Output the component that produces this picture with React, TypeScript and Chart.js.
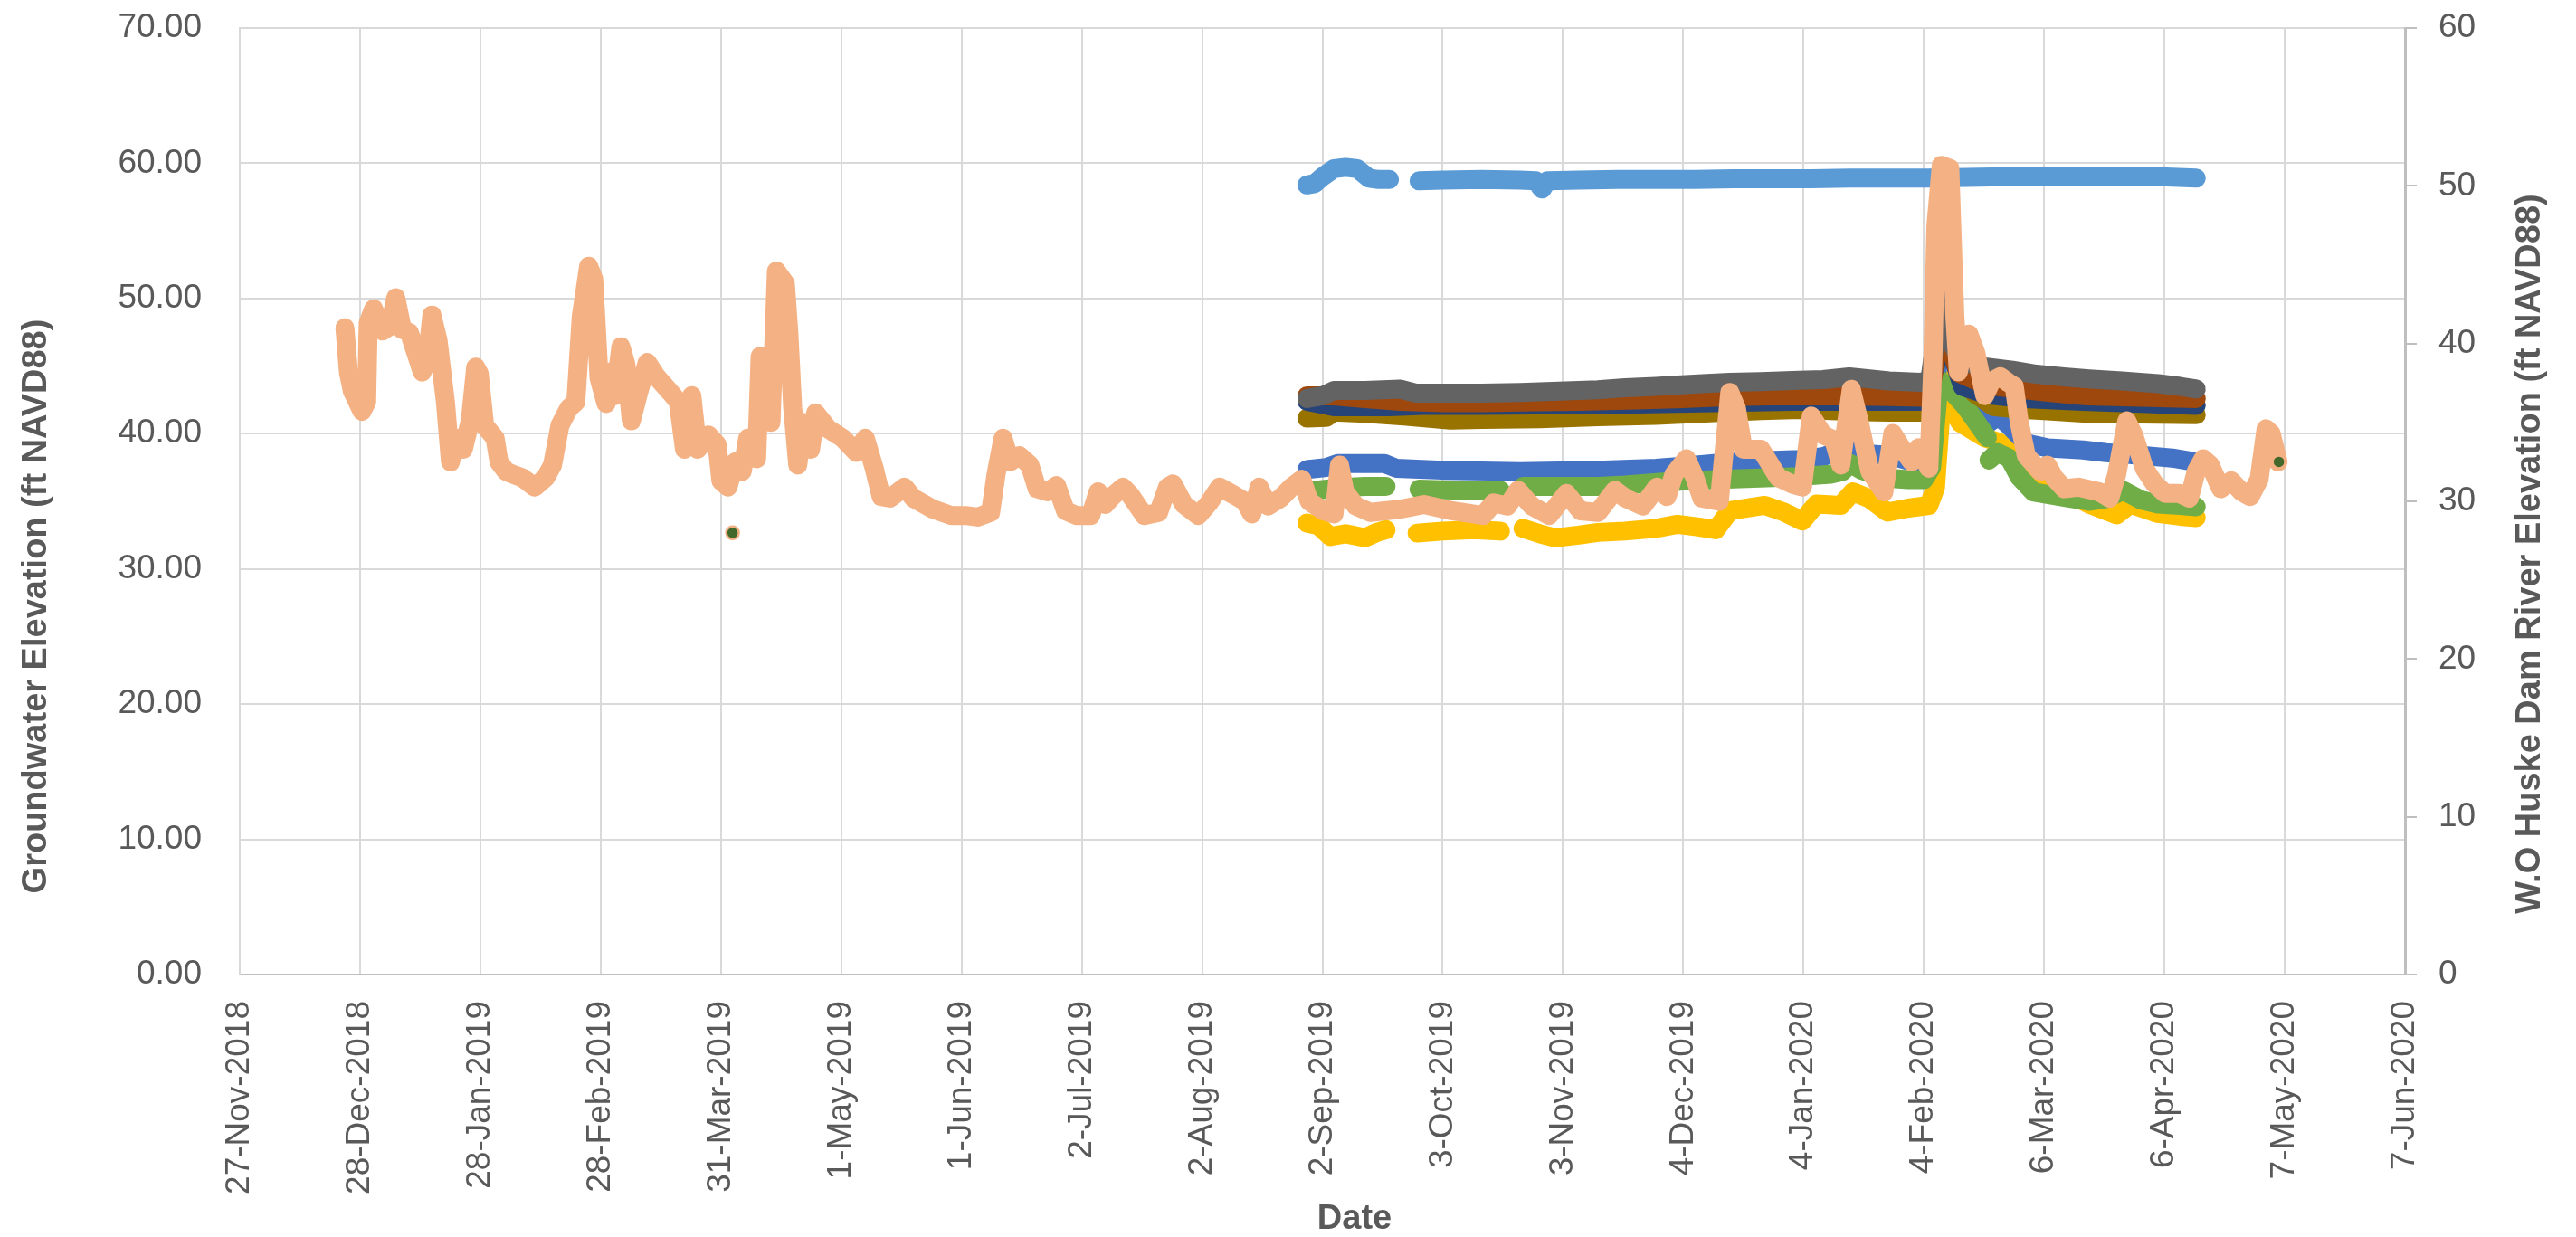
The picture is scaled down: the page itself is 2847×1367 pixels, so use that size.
import React, { useEffect, useRef } from 'react';
import { Chart, registerables } from 'chart.js';

Chart.register(...registerables);

// ---------- axis tick labels ----------
const xTickLabels = [
  '27-Nov-2018', '28-Dec-2018', '28-Jan-2019', '28-Feb-2019', '31-Mar-2019', '1-May-2019',
  '1-Jun-2019', '2-Jul-2019', '2-Aug-2019', '2-Sep-2019', '3-Oct-2019', '3-Nov-2019',
  '4-Dec-2019', '4-Jan-2020', '4-Feb-2020', '6-Mar-2020', '6-Apr-2020', '7-May-2020', '7-Jun-2020',
];
const X_STEP_DAYS = 31; // days between date ticks (day 0 = 27-Nov-2018)
const X_MAX_DAYS = 558;

const leftTitle = 'Groundwater Elevation (ft NAVD88)';
const rightTitle = 'W.O Huske Dam River Elevation (ft NAVD88)';
const xTitle = 'Date';

// ---------- river elevation (right axis), days since 27-Nov-2018 ----------
const riverDays = [
  27.1, 28, 29, 31.5, 32.7, 33.1, 34.5, 36.8, 38.7, 40.2,
  41.9, 43.7, 47, 48.3, 49.5, 51.1, 53, 54.3, 55.7, 57.6,
  59.4, 60.8, 61.7, 63.1, 65.8, 66.8, 68.6, 70.5, 72.8, 76,
  78.8, 80.6, 82.5, 84.8, 86.6, 88, 89.9, 91.2, 92.6, 94.4,
  95.4, 96.7, 98.2, 99.5, 100.9, 102.8, 105, 107.4, 111, 113,
  114.6, 116.5, 118, 120.8, 123, 124, 125.8, 127.7, 129.5, 130.9,
  133.2, 134.1, 136, 136.9, 138.3, 140.6, 141.5, 142.5, 143.8, 145.2,
  147.1, 148.4, 151.6, 155.4, 158.9, 161.2, 163.5, 165.3, 167.6, 171.3,
  173.6, 178.7, 183.3, 187, 190.2, 193.5, 194.9, 196.7, 198.5, 200.9,
  203.6, 205.5, 208.2, 210.5, 212.8, 215.6, 219.3, 221.2, 223, 224.8,
  227.6, 229.5, 233.1, 236.8, 239.1, 240.5, 243.3, 247, 249.8, 252.5,
  256.2, 259, 260.8, 262.7, 265, 268.2, 271, 273.7, 275.6, 279.3,
  282, 283.4, 284.8, 287.6, 291.3, 299, 305.2, 312.4, 320.4, 323.1,
  326.7, 329.4, 333, 337.4, 341.9, 345.5, 350, 354.4, 357.1, 361.6,
  365.2, 367.8, 369.6, 372.8, 375, 376.8, 381.3, 384, 385.7, 387.5,
  392, 396.5, 400, 402.7, 405, 408.1, 410.8, 412.6, 415.3, 417.4,
  420.1, 423.7, 426, 428.2, 430.9, 432.7, 435.3, 436.3, 437.1, 438.5,
  440.7, 442, 442.9, 444.3, 445.6, 447.4, 449.7, 451.4, 453.7, 455.9,
  457.3, 458.6, 460.4, 464, 465.8, 467.6, 470.2, 473.8, 479.2, 481.9,
  483.7, 486.3, 488.1, 490.8, 493.5, 496.2, 499.8, 502.4, 504.2, 506,
  507.8, 510.5, 513.2, 515.9, 518.1, 520.4, 522.2, 523.5, 525.3,
];
const riverLevels = [
  41.0, 38.2, 37.0, 35.7, 36.3, 41.3, 42.2, 40.8, 41.1, 42.9,
  40.9, 40.7, 38.2, 39.0, 41.8, 40.2, 36.3, 32.5, 34.0, 33.3,
  35.1, 38.5, 38.1, 34.8, 34.0, 32.5, 31.9, 31.7, 31.5, 30.9,
  31.5, 32.3, 34.8, 35.9, 36.3, 41.7, 44.9, 44.1, 37.8, 36.2,
  38.2, 36.7, 39.8, 38.7, 35.1, 36.9, 38.8, 37.9, 36.9, 36.3,
  33.3, 36.7, 33.3, 34.2, 33.6, 31.3, 30.9, 32.5, 31.9, 34.0,
  32.7, 39.2, 38.7, 35.0, 44.6, 43.8, 40.7, 35.9, 32.3, 35.0,
  33.3, 35.6, 34.6, 34.0, 33.1, 34.0, 32.1, 30.3, 30.2, 30.9,
  30.2, 29.5, 29.1, 29.1, 29.0, 29.3, 31.7, 34.0, 32.5, 32.9,
  32.3, 30.8, 30.6, 31.0, 29.4, 29.1, 29.1, 30.6, 29.8, 30.3,
  30.9, 30.4, 29.1, 29.3, 30.9, 31.1, 29.8, 29.1, 29.9, 30.9,
  30.4, 30.0, 29.2, 30.9, 29.7, 30.2, 30.9, 31.4, 30.0, 29.4,
  29.2, 32.3, 30.6, 29.7, 29.3, 29.5, 29.8, 29.4, 29.1, 29.9,
  29.7, 30.7, 29.7, 29.1, 30.5, 29.4, 29.3, 30.7, 30.2, 29.7,
  30.9, 30.3, 31.7, 32.7, 31.5, 30.2, 30.0, 36.9, 35.9, 33.3,
  33.3, 31.5, 31.1, 30.9, 35.4, 34.2, 33.9, 32.3, 37.1, 35.0,
  31.9, 30.6, 34.3, 33.4, 32.5, 33.4, 32.1, 38.6, 47.4, 51.3,
  51.1, 41.7, 38.2, 39.8, 40.6, 39.4, 36.7, 37.6, 37.9, 37.5,
  37.3, 35.0, 32.9, 31.9, 32.3, 31.5, 30.8, 30.9, 30.6, 30.2,
  31.7, 35.1, 34.2, 32.1, 31.1, 30.5, 30.5, 30.2, 31.9, 32.7,
  32.3, 30.8, 31.3, 30.6, 30.3, 31.4, 34.6, 34.3, 32.5,
];

// spot river measurements (dark green dots)
const riverSpotDays = [127, 525.5];
const riverSpotLevels = [28.0, 32.5];

// ---------- groundwater wells (left axis) ----------
const lightBlueDays = [275, 277, 279, 282, 285, 288, 291, 293.5, 296.3, 300, 303.9, 310, 320, 330, 334, 335.6, 337, 345, 355, 365, 375, 385, 395, 405, 415, 425, 435, 445, 455, 465, 475, 485, 495, 504.2];
const lightBlueVals = [58.4, 58.5, 59.0, 59.6, 59.7, 59.6, 58.9, 58.8, 58.8, null, 58.7, 58.75, 58.8, 58.75, 58.7, 58.1, 58.7, 58.75, 58.8, 58.8, 58.8, 58.85, 58.85, 58.85, 58.9, 58.9, 58.9, 58.95, 59.0, 59.0, 59.05, 59.05, 59.0, 58.9];

const grayDays = [275, 279, 282, 290, 299, 303, 310, 320, 330, 340, 350, 357, 365, 370.5, 377, 384, 392, 401.8, 408, 414.8, 425, 433, 435.5, 437.5, 439.5, 441.5, 444, 449.7, 456.8, 463, 470, 476.5, 485, 494.4, 500, 504.2];
const grayVals = [42.6, 42.8, 43.2, 43.2, 43.3, 43.0, 43.0, 43.0, 43.05, 43.15, 43.25, 43.4, 43.5, 43.6, 43.7, 43.8, 43.85, 43.95, 44.0, 44.2, 43.9, 43.8, 43.9, 48.0, 49.0, 46.5, 45.3, 44.95, 44.7, 44.4, 44.2, 44.05, 43.9, 43.7, 43.5, 43.3];

const brownDays = [275, 282, 290, 299, 310, 320, 330, 345, 360, 372, 384, 395, 405, 415, 425, 434, 436, 438, 440, 443, 450, 458.6, 465, 476, 490, 504.2];
const brownVals = [42.8, 42.8, 42.6, 42.4, 42.3, 42.3, 42.35, 42.4, 42.5, 42.6, 42.75, 42.8, 42.8, 42.8, 42.75, 42.7, 43.5, 48.0, 47.0, 44.5, 43.6, 43.3, 43.1, 42.8, 42.7, 42.6];

const darkBlueDays = [275, 282, 290, 296, 305, 320, 340, 360, 380, 400, 420, 434, 437, 439.4, 441, 444, 450, 460, 475, 490, 504.2];
const darkBlueVals = [42.4, 42.0, 42.0, 42.0, 42.1, 42.1, 42.15, 42.2, 42.3, 42.4, 42.4, 42.4, 45.0, 51.3, 46.0, 43.5, 42.9, 42.6, 42.4, 42.25, 42.1];

const oliveDays = [275, 280, 282, 290, 300, 312, 320, 335, 350, 365, 380, 392, 402, 415, 425, 434, 437, 439.4, 441, 443.4, 447, 452, 458.6, 465, 476, 490, 504.2];
const oliveVals = [41.15, 41.2, 41.6, 41.5, 41.3, 41.0, 41.05, 41.1, 41.25, 41.35, 41.55, 41.7, 41.8, 41.65, 41.6, 41.6, 45.0, 50.2, 47.0, 44.2, 43.0, 42.0, 41.8, 41.7, 41.5, 41.45, 41.4];

const blueDays = [275, 280, 283, 290, 295, 298, 310, 330, 350, 360, 365, 372, 380, 392, 402, 408, 413, 417, 420, 425, 430, 434, 436, 438, 440, 442, 444.3, 447, 449.7, 453.2, 456, 460.4, 466, 475, 481, 490, 498, 504.2];
const blueVals = [37.35, 37.5, 37.8, 37.8, 37.8, 37.45, 37.3, 37.2, 37.3, 37.4, 37.45, 37.6, 37.8, 38.0, 38.1, 38.3, 38.8, 38.6, 38.5, 38.4, 38.0, 37.9, 38.5, 47.0, 50.0, 46.0, 42.6, 41.5, 40.6, 41.3, 40.6, 39.3, 38.95, 38.8, 38.6, 38.4, 38.2, 37.9];

const greenDays = [277, 283, 290, 295.4, 299, 303.9, 310, 318, 324.9, 328, 330.7, 340, 350, 357, 366, 372, 380, 390, 400, 405, 410, 413, 415, 418, 422, 425, 430, 434, 436, 438, 440.7, 445, 450.4, 450.6, 450.8, 453, 456, 458.6, 462.2, 470, 476.5, 481, 485.4, 490, 494.4, 500, 504.2];
const greenVals = [35.8, 36.0, 36.1, 36.1, null, 35.9, 35.85, 35.8, 35.8, null, 36.1, 36.1, 36.1, 36.2, 36.4, 36.5, 36.6, 36.7, 36.8, 36.9, 37.0, 37.2, 37.8, 37.3, 36.9, 36.7, 36.6, 36.6, 37.5, 44.0, 43.3, 41.9, 39.7, null, 38.05, 38.6, 38.2, 36.8, 35.7, 35.3, 35.0, 35.2, 35.8, 35.1, 34.8, 34.7, 34.6];

const yellowDays = [275, 278, 281, 285, 290, 293, 295.4, 299, 303.4, 310, 318, 324.9, 328, 330.7, 335, 339, 345, 350, 357, 365, 370.5, 376, 380.4, 384, 393, 398, 402.7, 406.3, 412.6, 415.7, 420, 424.6, 430, 435.3, 437, 439, 441, 443.4, 449.7, 453, 456, 460, 467.6, 476.5, 483.7, 487.2, 494.4, 500, 504.2];
const yellowVals = [33.4, 33.2, 32.4, 32.6, 32.3, 32.7, 32.9, null, 32.65, 32.8, 32.9, 32.8, null, 33.0, 32.6, 32.3, 32.5, 32.7, 32.8, 33.0, 33.3, 33.1, 32.9, 34.3, 34.7, 34.2, 33.55, 34.8, 34.7, 35.7, 35.2, 34.2, 34.5, 34.7, 36.0, 44.0, 42.0, 40.8, 39.7, 39.4, 39.0, 37.2, 36.1, 34.8, 34.0, 34.8, 34.1, 33.9, 33.8];

const TEXT_COLOR = '#595959';
const TICK_FONT = { family: '"Liberation Sans", Arial, sans-serif', size: 37 };
const TITLE_FONT = 'bold 38px "Liberation Sans", Arial, sans-serif';
const LINE_WIDTH = 21;

function toPoints(days: number[], vals: (number | null)[]) {
  return days.map((d, i) => ({ x: d, y: vals[i] }));
}

function lineSeries(label: string, days: number[], vals: (number | null)[], color: string, order: number, yAxisID = 'y') {
  return {
    label,
    data: toPoints(days, vals),
    borderColor: color,
    backgroundColor: color,
    borderWidth: LINE_WIDTH,
    pointRadius: 0,
    pointHoverRadius: 0,
    borderCapStyle: 'round',
    borderJoinStyle: 'round',
    tension: 0,
    spanGaps: false,
    order,
    yAxisID,
  };
}

const axisTitlePlugin = {
  id: 'axisTitles',
  afterDraw(chart: any) {
    const ctx = chart.ctx;
    ctx.save();
    ctx.fillStyle = TEXT_COLOR;
    ctx.font = TITLE_FONT;
    ctx.textAlign = 'center';
    ctx.textBaseline = 'middle';
    ctx.save();
    ctx.translate(41, 670);
    ctx.rotate(-Math.PI / 2);
    ctx.fillText(leftTitle, 0, 0);
    ctx.restore();
    ctx.save();
    ctx.translate(2797, 612);
    ctx.rotate(-Math.PI / 2);
    ctx.fillText(rightTitle, 0, 0);
    ctx.restore();
    ctx.fillText(xTitle, 1497, 1348);
    ctx.restore();
  },
};

// vertical scales: fixed width, and no extra top/bottom padding from tick padding
function fixVertical(width: number) {
  return (s: any) => {
    s.width = width;
    s.paddingTop = 0;
    s.paddingBottom = 0;
  };
}

export default function App() {
  const canvasRef = useRef<HTMLCanvasElement | null>(null);

  useEffect(() => {
    document.body.style.margin = '0';
    document.body.style.overflow = 'hidden';
    const canvas = canvasRef.current;
    if (!canvas) return;

    const chart = new Chart(canvas, {
      type: 'line',
      data: {
        datasets: [
          {
            label: 'River spot measurement',
            data: toPoints(riverSpotDays, riverSpotLevels),
            showLine: false,
            pointRadius: 7,
            pointBackgroundColor: '#43682B',
            pointBorderColor: '#F4B183',
            pointBorderWidth: 2.5,
            order: 0,
            yAxisID: 'y2',
          } as any,
          lineSeries('W.O Huske Dam River Elevation', riverDays, riverLevels, '#F4B183', 1, 'y2') as any,
          lineSeries('Well A', lightBlueDays, lightBlueVals, '#5B9BD5', 2) as any,
          lineSeries('Well B', grayDays, grayVals, '#636363', 3) as any,
          lineSeries('Well C', brownDays, brownVals, '#9E480E', 4) as any,
          lineSeries('Well D', darkBlueDays, darkBlueVals, '#264478', 5) as any,
          lineSeries('Well E', oliveDays, oliveVals, '#997300', 6) as any,
          lineSeries('Well F', greenDays, greenVals, '#70AD47', 7) as any,
          lineSeries('Well G', blueDays, blueVals, '#4472C4', 8) as any,
          lineSeries('Well H', yellowDays, yellowVals, '#FFC000', 9) as any,
        ],
      },
      options: {
        animation: false,
        responsive: false,
        devicePixelRatio: 1,
        layout: { padding: { top: 31, left: 0, right: 0, bottom: 0 } },
        plugins: {
          legend: { display: false },
          tooltip: { enabled: false },
          title: { display: false },
        },
        scales: {
          x: {
            type: 'linear',
            min: 0,
            max: X_MAX_DAYS,
            afterFit: (s: any) => { s.height = 290; },
            ticks: {
              stepSize: X_STEP_DAYS,
              autoSkip: false,
              maxRotation: 90,
              minRotation: 90,
              padding: 29,
              color: TEXT_COLOR,
              font: TICK_FONT,
              callback: (v: any) => xTickLabels[Math.round(Number(v) / X_STEP_DAYS)] ?? '',
            },
            grid: { color: '#D9D9D9', lineWidth: 2, drawTicks: false },
            border: { color: '#BFBFBF', width: 2 },
          },
          y: {
            position: 'left',
            min: 0,
            max: 70,
            afterFit: fixVertical(265),
            ticks: {
              stepSize: 10,
              padding: 42,
              color: TEXT_COLOR,
              font: TICK_FONT,
              callback: (v: any) => Number(v).toFixed(2),
            },
            grid: { color: '#D9D9D9', lineWidth: 2, drawTicks: false },
            border: { color: '#D9D9D9', width: 2 },
          },
          y2: {
            position: 'right',
            min: 0,
            max: 60,
            afterFit: fixVertical(189),
            ticks: {
              stepSize: 10,
              padding: 24,
              color: TEXT_COLOR,
              font: TICK_FONT,
            },
            grid: { drawOnChartArea: false, drawTicks: true, tickLength: 13, color: '#BFBFBF', lineWidth: 2 },
            border: { color: '#BFBFBF', width: 3 },
          },
        },
      } as any,
      plugins: [axisTitlePlugin],
    });

    return () => chart.destroy();
  }, []);

  return (
    <div style={{ width: 2847, height: 1367, background: '#FFFFFF' }}>
      <canvas ref={canvasRef} width={2847} height={1367} style={{ display: 'block' }} />
    </div>
  );
}
